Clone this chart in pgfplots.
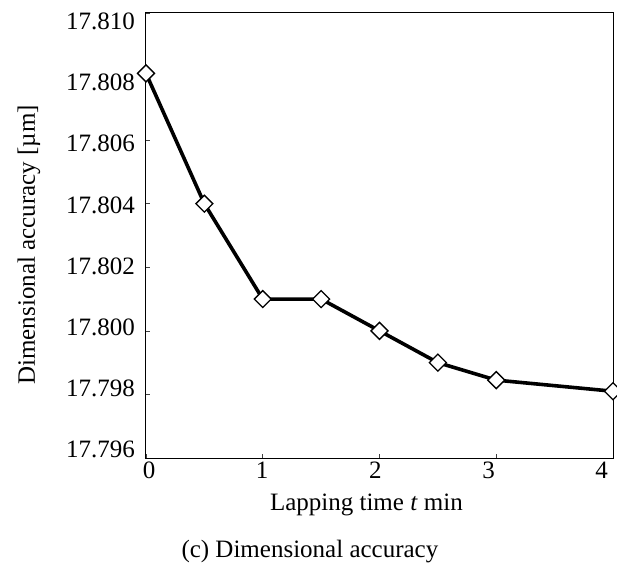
\documentclass[border=0pt]{standalone}
\usepackage{pgfplots}
\pgfplotsset{compat=1.18}
\usepackage{fontspec}
\setmainfont{Liberation Serif}
\begin{document}
\fontsize{25bp}{30bp}\selectfont
\begin{tikzpicture}
\begin{axis}[
  at={(0,0)}, anchor=south west,
  scale only axis,
  width=467bp, height=445bp,
  xmin=0, xmax=4, ymin=17.796, ymax=17.810,
  xtick={0,1,2,3,4}, xticklabels={},
  ytick={17.796,17.798,17.800,17.802,17.804,17.806,17.808,17.810}, yticklabels={},
  extra x ticks={0.026,0.995,1.964,2.934,3.903},
  extra x tick labels={0,1,2,3,4},
  extra y ticks={17.79627,17.79819,17.80012,17.80204,17.80396,17.80589,17.80781,17.80973},
  extra y tick labels={17.796,17.798,17.800,17.802,17.804,17.806,17.808,17.810},
  extra x tick style={tick style={draw=none}},
  extra y tick style={tick style={draw=none}},
  /pgf/number format/assume math mode=true,
  tick align=inside,
  major tick length=4.5bp,
  tick style={black!75, line width=0.6bp},
  xtick pos=bottom, ytick pos=left,
  axis line style={black, line width=1bp},
  xticklabel style={anchor=north, inner sep=0pt, yshift=-4bp},
  yticklabel style={anchor=east, inner sep=0pt, xshift=-11bp},
  xlabel={Lapping time \textit{t} min},
  ylabel={Dimensional accuracy [µm]},
  xlabel style={at={(axis description cs:0.472,-0.1169)}, anchor=base, inner sep=0pt},
  ylabel style={at={(axis description cs:-0.2505,0.479)}, anchor=center, rotate=0, inner sep=0pt},
  clip=false,
  font=\fontsize{25bp}{30bp}\selectfont,
  every tick label/.append style={font=\fontsize{25bp}{30bp}\selectfont},
]
\addplot[black, line width=3.6bp, mark=square*, mark size=6bp,
  mark options={fill=white, draw=black, line width=1.3bp, rotate=45, solid}]
  coordinates {(0,17.8081) (0.5,17.8040) (1,17.8010) (1.5,17.8010) (2,17.8000) (2.5,17.7990) (3,17.79845) (4,17.7981)};
\node[anchor=base, inner sep=0pt, font=\fontsize{25bp}{30bp}\selectfont] at (axis description cs:0.351,-0.2247) {(c) Dimensional accuracy};
\end{axis}
\pgfresetboundingbox
\path[use as bounding box] (-146bp,-109bp) rectangle (471bp,458bp);
\end{tikzpicture}
\end{document}
